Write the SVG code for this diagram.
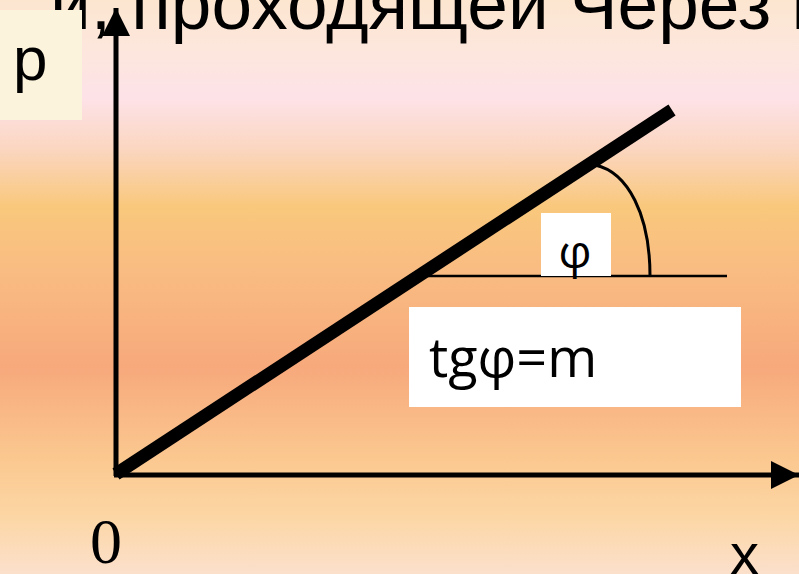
<svg xmlns="http://www.w3.org/2000/svg" width="799" height="574" viewBox="0 0 799 574">
<defs>
<linearGradient id="bg" x1="0" y1="0" x2="0" y2="1">
<stop offset="0" stop-color="#fce6d0"/>
<stop offset="0.10" stop-color="#fde6de"/>
<stop offset="0.17" stop-color="#fde2e8"/>
<stop offset="0.26" stop-color="#fbd6c0"/>
<stop offset="0.36" stop-color="#f9c87c"/>
<stop offset="0.46" stop-color="#f9bd82"/>
<stop offset="0.64" stop-color="#f7a97c"/>
<stop offset="0.80" stop-color="#fbc890"/>
<stop offset="0.90" stop-color="#fcd6a4"/>
<stop offset="1" stop-color="#fbe0cc"/>
</linearGradient>
<marker id="arrow" viewBox="0 0 10 10" refX="10" refY="5" markerUnits="userSpaceOnUse" markerWidth="36" markerHeight="28" orient="auto">
<path d="M0,0 L10,5 L0,10 Z" fill="#000"/>
</marker>
<style>
.axis{stroke:#000;stroke-width:5;fill:none}
.sans{font-family:"Liberation Sans",Arial,sans-serif;fill:#000}
.cal{font-family:"Open Sans","Noto Sans",sans-serif;fill:#000}
.serif{font-family:"Liberation Serif","Times New Roman",serif;fill:#000}
.box{fill:#fff}
</style>
</defs>
<rect width="799" height="574" fill="url(#bg)"/>
<text class="sans" x="50" y="29" font-size="73">й, проходящей Через н</text>
<g id="p-label">
<rect x="0" y="10" width="82" height="110" fill="#fcf3dc"/>
<text class="sans" x="13" y="80" font-size="62">p</text>
</g>
<g id="connectors">
<line class="axis" x1="116" y1="476" x2="116" y2="8" marker-end="url(#arrow)"/>
<line class="axis" x1="114" y1="475" x2="799" y2="475" marker-end="url(#arrow)"/>
<line x1="116" y1="474" x2="672" y2="110" stroke="#000" stroke-width="13"/>
<line x1="425" y1="276" x2="727" y2="276" stroke="#000" stroke-width="2.5"/>
<path d="M595,165 C628,172 650,215 650,276" fill="none" stroke="#000" stroke-width="3"/>
</g>
<g id="phi">
<rect class="box" x="541" y="213" width="70" height="63"/>
<text class="cal" x="575" y="268" font-size="46" text-anchor="middle">φ</text>
</g>
<g id="formula">
<rect class="box" x="409" y="307" width="332" height="100"/>
<text class="cal" x="429" y="377" font-size="54">tgφ=m</text>
</g>
<text class="serif" x="90" y="563" font-size="64">0</text>
<text class="sans" x="730" y="574" font-size="58">x</text>
</svg>
